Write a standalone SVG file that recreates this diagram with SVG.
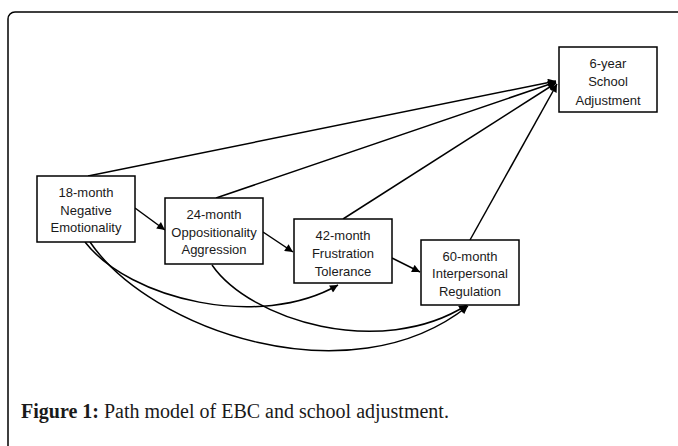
<svg xmlns="http://www.w3.org/2000/svg" width="678" height="446" viewBox="0 0 678 446">
<style>
.box{fill:#fff;stroke:#000;stroke-width:1.5}
.lbl{font-family:"Liberation Sans",Arial,sans-serif;font-size:13px;fill:#1a1a1a;text-anchor:middle}
.edge{fill:none;stroke:#000;stroke-width:1.5}
.cap{font-family:"Liberation Serif","Times New Roman",serif;font-size:20px;fill:#1a1a1a}
</style>
<defs>
<marker id="ah" viewBox="0 0 10 10" refX="10" refY="5" markerWidth="9" markerHeight="8" markerUnits="userSpaceOnUse" orient="auto">
<path d="M0,0 L10,5 L0,10 z" fill="#000"/>
</marker>
</defs>
<rect x="8" y="12" width="720" height="480" rx="7" fill="#fff" stroke="#000" stroke-width="1.5"/>
<g id="connectors">
<path class="edge" marker-end="url(#ah)" d="M88,176 L556,81"/>
<path class="edge" marker-end="url(#ah)" d="M216,198 L556,82"/>
<path class="edge" marker-end="url(#ah)" d="M343,219 L556,83"/>
<path class="edge" marker-end="url(#ah)" d="M470,240 L557,84"/>
<path class="edge" marker-end="url(#ah)" d="M135,208 L165,230"/>
<path class="edge" marker-end="url(#ah)" d="M263,232 L293,252"/>
<path class="edge" marker-end="url(#ah)" d="M392,258 L420,272"/>
<path class="edge" marker-end="url(#ah)" d="M85,242 C130,300 260,330 338,285"/>
<path class="edge" marker-end="url(#ah)" d="M90,242 C150,330 350,400 468,306"/>
<path class="edge" marker-end="url(#ah)" d="M212,265 C250,320 380,360 467,305"/>
</g>
<g id="n18">
<rect class="box" x="37" y="176" width="98" height="66"/>
<text class="lbl" x="86" y="196.5">18-month</text>
<text class="lbl" x="86" y="214.5">Negative</text>
<text class="lbl" x="86" y="231.5">Emotionality</text>
</g>
<g id="n24">
<rect class="box" x="165" y="198" width="98" height="66"/>
<text class="lbl" x="214" y="219">24-month</text>
<text class="lbl" x="214" y="237">Oppositionality</text>
<text class="lbl" x="214" y="254">Aggression</text>
</g>
<g id="n42">
<rect class="box" x="294" y="219" width="98" height="64"/>
<text class="lbl" x="343" y="239.5">42-month</text>
<text class="lbl" x="343" y="257.5">Frustration</text>
<text class="lbl" x="343" y="275.5">Tolerance</text>
</g>
<g id="n60">
<rect class="box" x="421" y="240" width="98" height="65"/>
<text class="lbl" x="470" y="260.5">60-month</text>
<text class="lbl" x="470" y="278">Interpersonal</text>
<text class="lbl" x="470" y="295.5">Regulation</text>
</g>
<g id="n6y">
<rect class="box" x="559" y="47" width="98" height="65"/>
<text class="lbl" x="608" y="67.5">6-year</text>
<text class="lbl" x="608" y="86">School</text>
<text class="lbl" x="608" y="104.5">Adjustment</text>
</g>
<text class="cap" x="21" y="418"><tspan font-weight="bold">Figure 1:</tspan> Path model of EBC and school adjustment.</text>
</svg>
